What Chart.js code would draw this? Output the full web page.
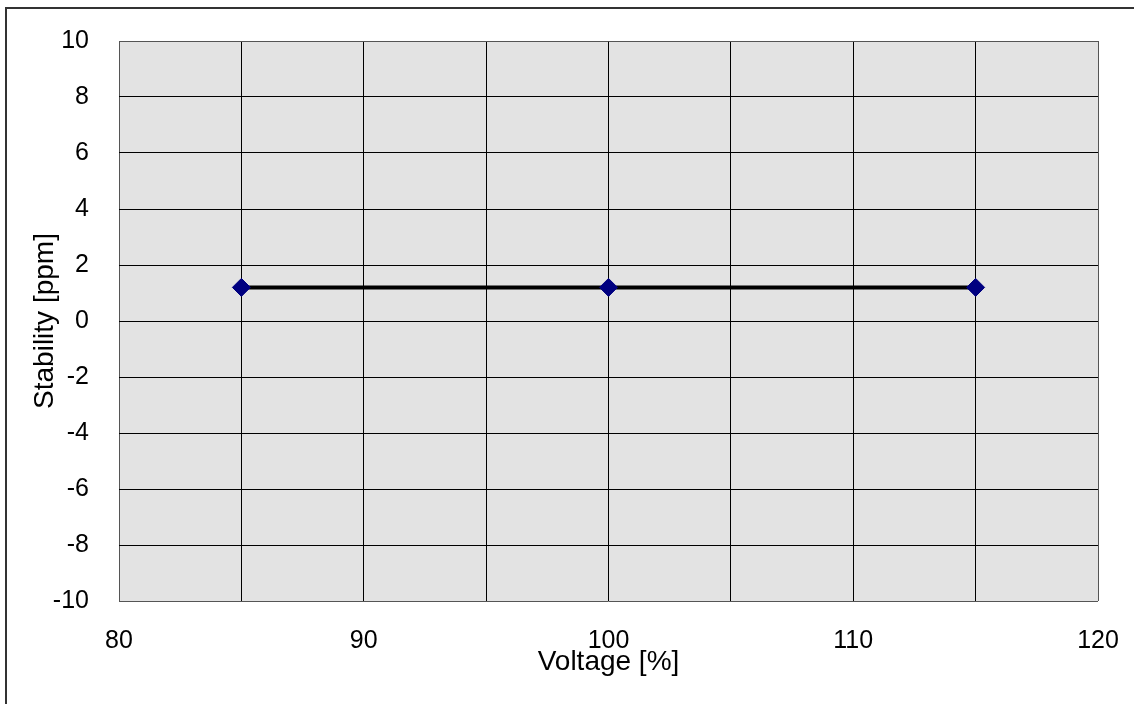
<!DOCTYPE html>
<html>
<head>
<meta charset="utf-8">
<script src="https://cdn.jsdelivr.net/npm/chart.js@4.4.0/dist/chart.umd.min.js"></script>
<style>
  html, body { margin: 0; padding: 0; background: #fff; }
  #wrap { width: 1134px; height: 704px; }
</style>
</head>
<body>
<div id="wrap"><canvas id="myChart" width="1134" height="704"></canvas></div>
<script>
// values
const voltage = [85, 100, 115];
const stability = [1.2, 1.2, 1.2];
const xRange = [80, 120];
const yRange = [-10, 10];

const tickFont = { family: "'Liberation Sans', Arial, sans-serif", size: 25 };
const titleFont = { family: "'Liberation Sans', Arial, sans-serif", size: 28 };

// whole-picture frame + grey plot background
const framePlugin = {
  id: 'frame',
  beforeDraw(chart) {
    const ctx = chart.ctx;
    const a = chart.chartArea;
    ctx.save();
    ctx.fillStyle = '#fff';
    ctx.fillRect(0, 0, chart.width, chart.height);
    ctx.fillStyle = '#e3e3e3';
    ctx.fillRect(a.left, a.top, a.right - a.left, a.bottom - a.top);
    ctx.restore();
  },
  afterDraw(chart) {
    const ctx = chart.ctx;
    ctx.save();
    ctx.fillStyle = '#333';
    ctx.fillRect(5, 7, chart.width - 5, 2);
    ctx.fillRect(5, 7, 2, chart.height - 7);
    ctx.restore();
  }
};

function gridColor(min, max) {
  return c => (c.tick && (c.tick.value === min || c.tick.value === max)) ? '#555' : '#000';
}

new Chart(document.getElementById('myChart').getContext('2d'), {
  type: 'scatter',
  data: {
    datasets: [{
      data: voltage.map((v, i) => ({ x: v, y: stability[i] })),
      showLine: true,
      borderColor: '#000',
      borderWidth: 4,
      pointStyle: 'rectRot',
      pointRadius: 9,
      pointBackgroundColor: '#000080',
      pointBorderColor: '#000080',
      pointBorderWidth: 1
    }]
  },
  options: {
    responsive: false,
    animation: false,
    layout: { padding: { left: 0, top: 41, right: 36, bottom: 0 } },
    plugins: { legend: { display: false }, tooltip: { enabled: false } },
    scales: {
      x: {
        type: 'linear',
        min: xRange[0],
        max: xRange[1],
        afterFit(scale) {
          scale.height = 103;
          scale.paddingLeft = 0;
          scale.paddingRight = 0;
        },
        grid: { color: gridColor(xRange[0], xRange[1]), lineWidth: 1, drawTicks: false },
        border: { display: false },
        ticks: {
          stepSize: 5,
          padding: 25,
          color: '#000',
          font: tickFont,
          callback: v => (v % 10 === 0 ? String(v) : '')
        },
        title: { display: true, text: 'Voltage [%]', color: '#000', font: titleFont, padding: { top: 0, bottom: 25 } }
      },
      y: {
        min: yRange[0],
        max: yRange[1],
        afterFit(scale) {
          scale.width = 119;
          scale.paddingTop = 0;
          scale.paddingBottom = 0;
        },
        grid: { color: gridColor(yRange[0], yRange[1]), lineWidth: 1, drawTicks: false },
        border: { display: false },
        ticks: { stepSize: 2, padding: 30, color: '#000', font: tickFont },
        title: { display: true, text: 'Stability [ppm]', color: '#000', font: titleFont, padding: { top: 28, bottom: 0 } }
      }
    }
  },
  plugins: [framePlugin]
});
</script>
</body>
</html>
